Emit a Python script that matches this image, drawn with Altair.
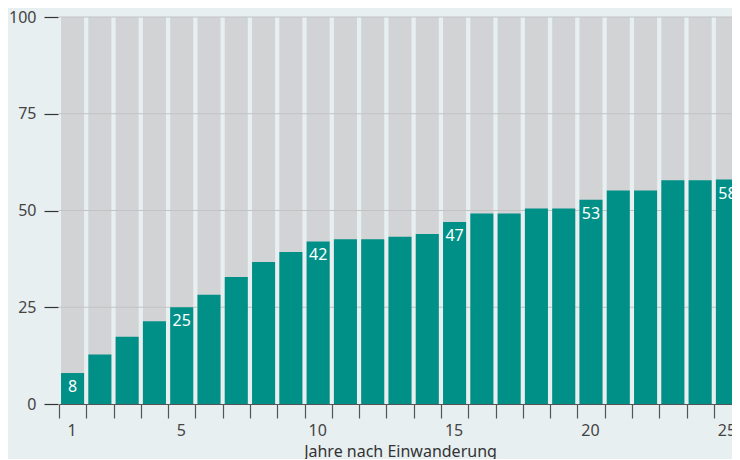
import altair as alt
import pandas as pd

years = list(range(1, 26))
values = [8, 12.8, 17.4, 21.4, 25, 28.2, 32.8, 36.7, 39.3, 42, 42.6, 42.6, 43.2, 43.9,
          47, 49.2, 49.2, 50.5, 50.5, 52.8, 55.2, 55.2, 57.8, 57.8, 58]
labels = ["8", "", "", "", "25", "", "", "", "", "42", "", "", "", "", "47",
          "", "", "", "", "53", "", "", "", "", "58"]
full = [100] * 25
grid_vals = [25, 50, 75, 100]

df = pd.DataFrame({"year": years, "value": values, "label": labels, "full": full})
gdf = pd.DataFrame({"g": grid_vals})

FONT = "Noto Sans"
TEAL = "#009087"
GRAY = "#d2d3d5"

xscale = alt.Scale(paddingInner=0.155, paddingOuter=0.075)
yscale = alt.Scale(domain=[0, 100], nice=False)

x_enc = alt.X(
    "year:O", scale=xscale,
    axis=alt.Axis(
        title="Jahre nach Einwanderung", labelAngle=0,
        bandPosition=0, tickOffset=-2, labelOffset=1,
        labelExpr="(datum.value == 1 || datum.value % 5 == 0) ? datum.label : ''",
        domainColor="#555555", tickColor="#555555", tickSize=14, tickWidth=1.2,
        labelFontSize=16, labelColor="#444444", labelFont=FONT, labelPadding=4,
        titleFontSize=16, titleFontWeight="normal", titleColor="#333333",
        titleFont=FONT, titlePadding=5,
    ),
)

bg = alt.Chart(df).mark_bar(color=GRAY).encode(
    x=x_enc,
    y=alt.Y("full:Q", scale=yscale, axis=alt.Axis(
        values=[0, 25, 50, 75, 100], grid=False, domain=False, title=None,
        tickColor="#333333", tickSize=14, tickWidth=1.2, labelPadding=8,
        labelFontSize=16, labelColor="#444444", labelFont=FONT, offset=1,
    )),
)

grid = alt.Chart(gdf).mark_rule(color="#c2c3c5", strokeWidth=1.2).encode(
    y=alt.Y("g:Q", scale=yscale)
)

bars = alt.Chart(df).mark_bar(color=TEAL).encode(
    x=alt.X("year:O", scale=xscale),
    y=alt.Y("value:Q", scale=yscale),
)

text = alt.Chart(df).mark_text(
    color="white", fontSize=16, font=FONT, baseline="middle", dy=14
).encode(
    x=alt.X("year:O", scale=xscale),
    y=alt.Y("value:Q", scale=yscale),
    text="label:N",
)

chart = alt.layer(bg, grid, bars, text).properties(
    width=682, height=387,
    padding={"top": 1, "left": 0, "right": -10, "bottom": 0},
    background="#e7eff1",
).configure_view(stroke=None)

chart.save("out.html", embed_options={"renderer": "svg", "actions": False})
